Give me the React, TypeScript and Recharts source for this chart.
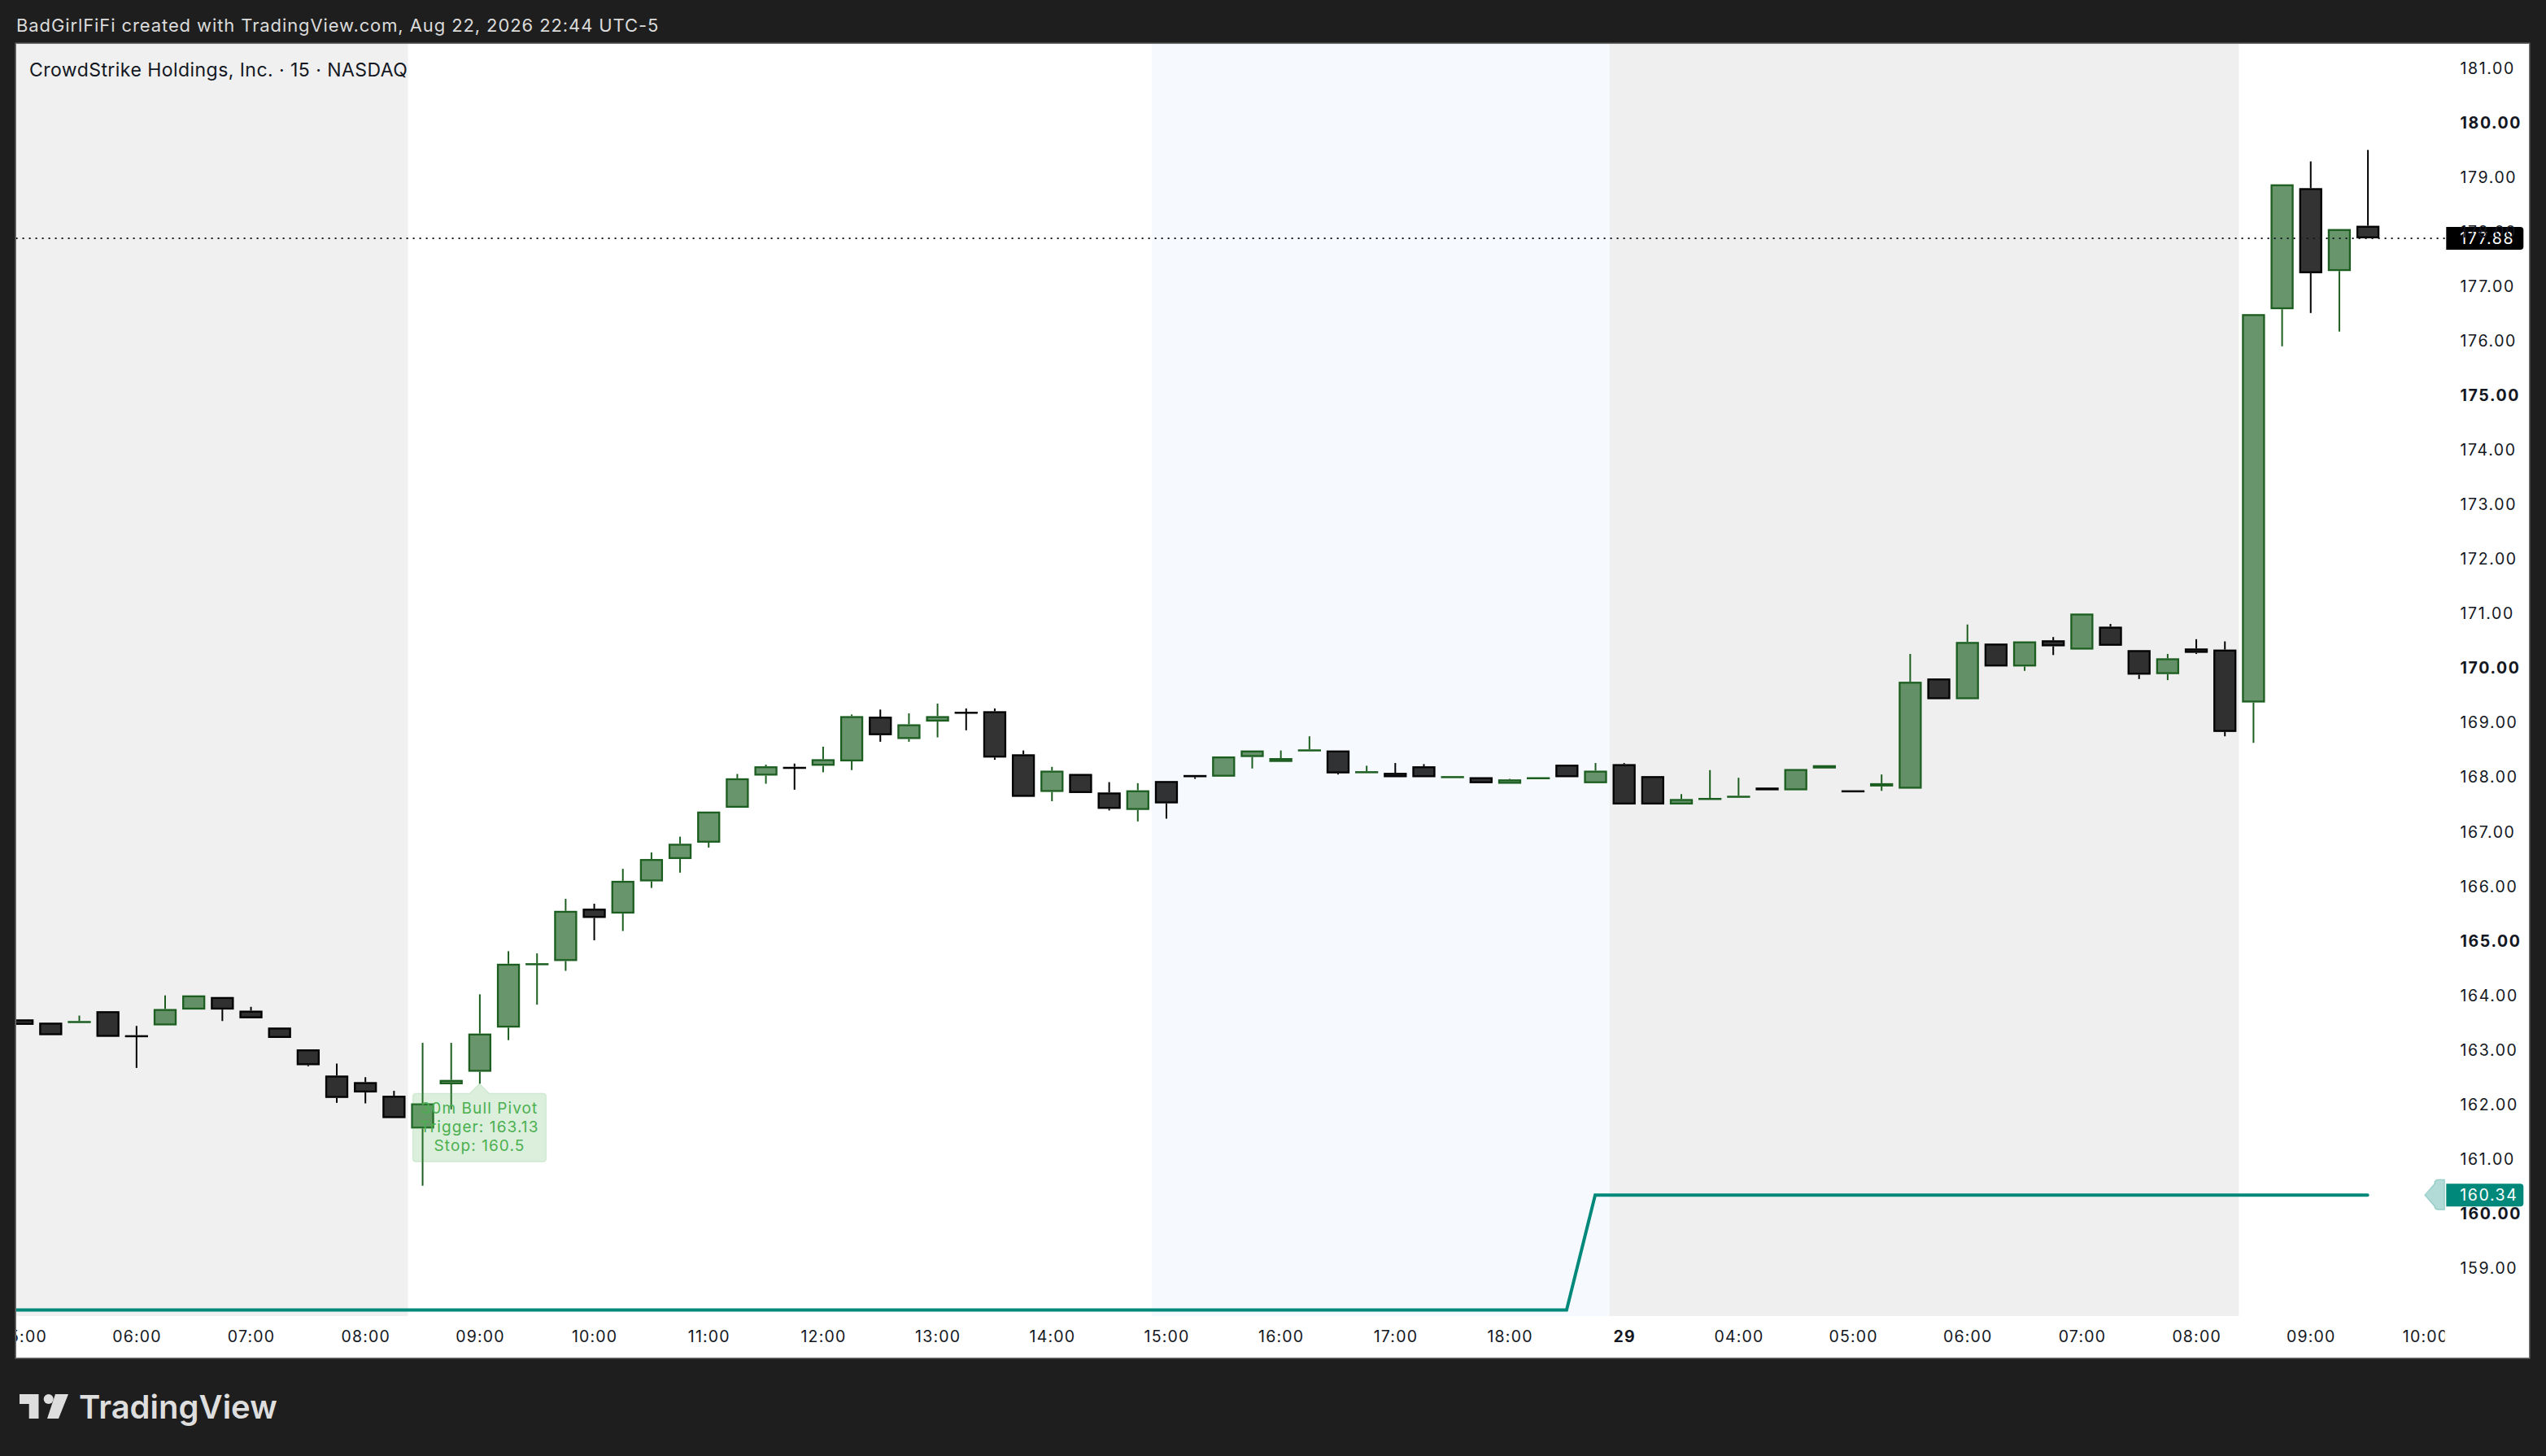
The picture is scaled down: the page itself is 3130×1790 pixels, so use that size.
import { Bar, ComposedChart, Line, ReferenceArea, ReferenceDot, ReferenceLine, XAxis, YAxis } from 'recharts';

// 15 minute bars, first one at 05:00
const opens = [
  163.56, 163.5, 163.51, 163.71, 163.27, 163.45, 163.74, 163.97, 163.72, 163.41,
  163.01, 162.53, 162.41, 162.16, 161.56, 162.37, 162.6, 163.41, 164.56, 164.63,
  165.59, 165.5, 166.09, 166.5, 166.8, 167.44, 168.03, 168.19, 168.21, 168.29,
  169.11, 168.7, 169.02, 169.2, 169.21, 168.42, 167.73, 168.06, 167.72, 167.4,
  167.93, 168.04, 168.01, 168.37, 168.28, 168.49, 168.49, 168.09, 168.08, 168.2,
  168.0, 168.0, 167.88, 167.97, 168.23, 167.89, 168.24, 168.02, 167.5, 167.6,
  167.64, 167.81, 167.76, 168.16, 167.76, 167.83, 167.79, 169.81, 169.43, 170.45,
  170.03, 170.51, 170.34, 170.76, 170.33, 169.89, 170.36, 170.34, 169.37, 176.58,
  178.8, 177.28, 178.11,
];
const highs = [
  163.56, 163.5, 163.63, 163.71, 163.44, 164.0, 164.0, 163.97, 163.79, 163.41,
  163.01, 162.75, 162.5, 162.25, 163.13, 163.13, 164.02, 164.81, 164.77, 165.77,
  165.68, 166.32, 166.62, 166.91, 167.37, 168.06, 168.23, 168.25, 168.56, 169.15,
  169.24, 169.17, 169.35, 169.26, 169.26, 168.49, 168.19, 168.06, 167.91, 167.89,
  167.93, 168.04, 168.38, 168.49, 168.49, 168.75, 168.49, 168.21, 168.26, 168.24,
  168.02, 168.0, 167.97, 168.0, 168.23, 168.26, 168.26, 168.02, 167.69, 168.13,
  167.99, 167.81, 168.15, 168.22, 167.76, 168.05, 170.26, 169.81, 170.8, 170.45,
  170.49, 170.57, 171.0, 170.81, 170.33, 170.26, 170.53, 170.49, 176.49, 178.87,
  179.29, 178.05, 179.5,
];
const lows = [
  163.46, 163.27, 163.51, 163.24, 162.67, 163.45, 163.74, 163.53, 163.58, 163.22,
  162.7, 162.03, 162.02, 161.75, 160.51, 161.91, 162.38, 163.18, 163.83, 164.45,
  165.01, 165.18, 165.97, 166.25, 166.71, 167.44, 167.88, 167.77, 168.09, 168.13,
  168.65, 168.65, 168.73, 168.86, 168.32, 167.64, 167.56, 167.71, 167.39, 167.19,
  167.24, 167.97, 168.01, 168.16, 168.28, 168.49, 168.05, 168.09, 168.0, 168.0,
  168.0, 167.89, 167.88, 167.97, 168.0, 167.89, 167.5, 167.5, 167.5, 167.6,
  167.64, 167.76, 167.76, 168.16, 167.74, 167.75, 167.79, 169.43, 169.43, 170.03,
  169.95, 170.24, 170.34, 170.41, 169.8, 169.78, 170.26, 168.75, 168.63, 175.9,
  176.51, 176.17, 177.88,
];
const closes = [
  163.46, 163.27, 163.53, 163.24, 163.25, 163.75, 164.0, 163.74, 163.58, 163.22,
  162.72, 162.12, 162.22, 161.75, 162.02, 162.45, 163.3, 164.58, 164.59, 165.55,
  165.42, 166.1, 166.5, 166.78, 167.37, 167.98, 168.2, 168.17, 168.33, 169.12,
  168.77, 168.97, 169.12, 169.18, 168.36, 167.64, 168.12, 167.71, 167.42, 167.76,
  167.52, 168.0, 168.38, 168.49, 168.35, 168.51, 168.07, 168.11, 168.0, 168.0,
  168.02, 167.89, 167.96, 168.0, 168.0, 168.12, 167.5, 167.5, 167.6, 167.62,
  167.66, 167.76, 168.15, 168.22, 167.74, 167.89, 169.75, 169.43, 170.48, 170.03,
  170.49, 170.4, 171.0, 170.41, 169.88, 170.18, 170.28, 168.83, 176.49, 178.87,
  177.24, 178.05, 177.88,
];
// stop line, starts one bar before the first candle so it reaches the pane edge
const stops = [
  158.23, 158.23, 158.23, 158.23, 158.23, 158.23, 158.23, 158.23, 158.23, 158.23,
  158.23, 158.23, 158.23, 158.23, 158.23, 158.23, 158.23, 158.23, 158.23, 158.23,
  158.23, 158.23, 158.23, 158.23, 158.23, 158.23, 158.23, 158.23, 158.23, 158.23,
  158.23, 158.23, 158.23, 158.23, 158.23, 158.23, 158.23, 158.23, 158.23, 158.23,
  158.23, 158.23, 158.23, 158.23, 158.23, 158.23, 158.23, 158.23, 158.23, 158.23,
  158.23, 158.23, 158.23, 158.23, 158.23, 158.23, 160.34, 160.34, 160.34, 160.34,
  160.34, 160.34, 160.34, 160.34, 160.34, 160.34, 160.34, 160.34, 160.34, 160.34,
  160.34, 160.34, 160.34, 160.34, 160.34, 160.34, 160.34, 160.34, 160.34, 160.34,
  160.34, 160.34, 160.34, 160.34,
];
const timeSlots = [0, 4, 8, 12, 16, 20, 24, 28, 32, 36, 40, 44, 48, 52, 56, 60, 64, 68, 72, 76, 80, 84];
const timeLabels = [
  '05:00', '06:00', '07:00', '08:00', '09:00', '10:00', '11:00', '12:00', '13:00', '14:00', '15:00',
  '16:00', '17:00', '18:00', '29', '04:00', '05:00', '06:00', '07:00', '08:00', '09:00', '10:00',
];
const priceTicks = [159, 160, 161, 162, 163, 164, 165, 166, 167, 168, 169, 170, 171, 172, 173, 174, 175, 176, 177, 178, 179, 180, 181];
const lastPrice = 177.88;
const stopPrice = 160.34;
const pivotLines = ['30m Bull Pivot', 'Trigger: 163.13', 'Stop: 160.5'];

const rows: any[] = [];
for (let slot = -1; slot <= 84; slot++) {
  const i = slot;
  rows.push({
    slot,
    open: opens[i],
    high: highs[i],
    low: lows[i],
    close: closes[i],
    range: i >= 0 && i < opens.length ? [lows[i], highs[i]] : null,
    stop: stops[slot + 1] ?? null,
  });
}

const FONT = 'Inter, "Noto Sans", sans-serif';
const UP = '#1b5e20';
const DOWN = '#000000';
const TEAL = '#00897b';

function Candle(props: any) {
  const { x, y, width, height, payload } = props;
  if (payload.open == null || !payload.range) return null;
  const top = Math.min(y, y + height);
  const span = Math.abs(height);
  const perUnit = span / (payload.high - payload.low);
  const isUp = payload.close >= payload.open;
  const color = isUp ? UP : DOWN;
  const bodyTop = top + (payload.high - Math.max(payload.open, payload.close)) * perUnit;
  const bodyBottom = top + (payload.high - Math.min(payload.open, payload.close)) * perUnit;
  const cx = x + width / 2;
  // readings are the outer edge of the outline, so pull the rect in by half a stroke
  const inner = Math.max(bodyBottom - bodyTop - 2.3, 0.2);
  return (
    <g>
      <line x1={cx} x2={cx} y1={top} y2={bodyTop} stroke={color} strokeWidth={2} />
      <line x1={cx} x2={cx} y1={bodyBottom} y2={top + span} stroke={color} strokeWidth={2} />
      <rect
        x={x}
        y={bodyTop + 1.15}
        width={width}
        height={inner}
        fill={isUp ? 'rgba(27,94,32,0.66)' : 'rgba(0,0,0,0.8)'}
        stroke={color}
        strokeWidth={2.3}
      />
    </g>
  );
}

function TimeTick(props: any) {
  const { x, payload } = props;
  const label = timeLabels[timeSlots.indexOf(payload.value)];
  return (
    <text
      x={x + 1}
      y={1589}
      clipPath="url(#timeClip)"
      textAnchor="middle"
      dominantBaseline="central"
      fontFamily={FONT}
      fontSize={19.5}
      letterSpacing={1.2}
      fontWeight={label === '29' ? 700 : 400}
      fill="#131722"
    >
      {label}
    </text>
  );
}

function PriceTick(props: any) {
  const { x, y, payload } = props;
  return (
    <text
      x={x}
      y={y}
      textAnchor="start"
      dominantBaseline="central"
      fontFamily={FONT}
      fontSize={19.5}
      letterSpacing={1.6}
      fontWeight={payload.value % 5 === 0 ? 700 : 400}
      fill="#131722"
    >
      {payload.value.toFixed(2)}
    </text>
  );
}

function PivotNote({ cx, cy }: any) {
  const l = cx - 82;
  const r = cx + 82;
  const t = cy + 12;
  const b = cy + 96;
  const d = `M${l + 4} ${t}H${cx - 12}L${cx} ${cy}L${cx + 12} ${t}H${r - 4}Q${r} ${t} ${r} ${t + 4}V${b - 4}Q${r} ${b} ${r - 4} ${b}H${l + 4}Q${l} ${b} ${l} ${b - 4}V${t + 4}Q${l} ${t} ${l + 4} ${t}Z`;
  return (
    <g>
      <path d={d} fill="rgba(76,175,80,0.2)" stroke="rgba(76,175,80,0.15)" strokeWidth={1.5} />
      {pivotLines.map((line, i) => (
        <text
          key={line}
          x={cx}
          y={cy + 30 + i * 23}
          textAnchor="middle"
          dominantBaseline="central"
          fontFamily={FONT}
          fontSize={19}
          letterSpacing={1.1}
          fill="#4caf50"
        >
          {line}
        </text>
      ))}
    </g>
  );
}

function PriceTag({ cx, cy, value, fill }: any) {
  // cx is the centre of the 10:00 slot
  const left = cx + 26.3;
  const w = 95;
  const h = 28;
  const d = `M${left} ${cy - h / 2}H${left + w - 4}Q${left + w} ${cy - h / 2} ${left + w} ${cy - h / 2 + 4}V${cy + h / 2 - 4}Q${left + w} ${cy + h / 2} ${left + w - 4} ${cy + h / 2}H${left}Z`;
  return (
    <g>
      <path d={d} fill={fill} />
      <text
        x={cx + 43.3}
        y={cy}
        textAnchor="start"
        dominantBaseline="central"
        fontFamily={FONT}
        fontSize={19.5}
        letterSpacing={1.6}
        fill="#ffffff"
      >
        {value.toFixed(2)}
      </text>
    </g>
  );
}

function StopTag(props: any) {
  const { cx, cy } = props;
  const tipW = 12;
  return (
    <g>
      <path
        d={`M${cx} ${cy}L${cx + tipW} ${cy - 14}V${cy - 16}Q${cx + tipW + 1} ${cy - 19} ${cx + tipW + 4} ${cy - 19}H${cx + 24.3}V${cy + 18}H${cx + tipW + 4}Q${cx + tipW + 1} ${cy + 18} ${cx + tipW} ${cy + 15}V${cy + 14}Z`}
        fill="rgba(0,137,123,0.3)"
        stroke="rgba(0,137,123,0.25)"
        strokeWidth={1.5}
      />
      <PriceTag cx={cx} cy={cy} value={stopPrice} fill={TEAL} />
    </g>
  );
}

function LastTag(props: any) {
  return <PriceTag cx={props.cx} cy={props.cy} value={lastPrice} fill="#000000" />;
}

export default function App() {
  return (
    <div style={{ position: 'absolute', left: 0, top: 0, width: 3130, height: 1790, background: '#1e1e1e', overflow: 'hidden', fontFamily: FONT }}>
      <div style={{ position: 'absolute', left: 20, top: 17, fontSize: 22, letterSpacing: 0.9, lineHeight: '28px', color: '#dbdbdb', whiteSpace: 'nowrap' }}>
        BadGirlFiFi created with TradingView.com, Aug 22, 2026 22:44 UTC-5
      </div>

      <div style={{ position: 'absolute', left: 20, top: 54, width: 3089, height: 1615, background: '#fff', overflow: 'hidden', boxShadow: '0 0 0 1.5px #6f6f6f' }}>
        <div style={{ position: 'absolute', left: -45.6, top: 0 }}>
          <ComposedChart
            width={3134.6}
            height={1615}
            data={rows}
            margin={{ top: 0, right: 0, bottom: 0, left: 0 }}
            barSize={26}
          >
            <defs>
              <clipPath id="timeClip">
                <rect x={0} y={0} width={3031.6} height={1615} />
              </clipPath>
            </defs>
            <XAxis
              dataKey="slot"
              type="category"
              ticks={timeSlots}
              interval={0}
              height={51}
              axisLine={false}
              tickLine={false}
              padding={{ left: 0, right: 7 }}
              tick={<TimeTick />}
            />
            <YAxis
              orientation="right"
              width={103}
              domain={[158.12, 181.444]}
              ticks={priceTicks}
              interval={0}
              axisLine={false}
              tickLine={false}
              tickSize={0}
              tickMargin={19}
              tick={<PriceTick />}
            />
            <ReferenceArea x1={0} x2={13} fill="#f0f0f0" fillOpacity={1} stroke="none" />
            <ReferenceArea x1={40} x2={55} fill="#f6faff" fillOpacity={1} stroke="none" />
            <ReferenceArea x1={56} x2={77} fill="#efefef" fillOpacity={1} stroke="none" />
            <ReferenceLine y={lastPrice} stroke="#131722" strokeWidth={2} strokeDasharray="2 6" />
            <Line dataKey="stop" stroke={TEAL} strokeWidth={4} strokeLinecap="round" dot={false} activeDot={false} isAnimationActive={false} connectNulls={false} />
            <Bar dataKey="range" shape={<Candle />} isAnimationActive={false} />
            <ReferenceDot x={16} y={lows[16]} ifOverflow="visible" shape={<PivotNote />} />
            <ReferenceDot x={84} y={lastPrice} ifOverflow="visible" shape={<LastTag />} />
            <ReferenceDot x={84} y={stopPrice} ifOverflow="visible" shape={<StopTag />} />
          </ComposedChart>
        </div>
        <div style={{ position: 'absolute', left: 16, top: 17, fontSize: 23, letterSpacing: 0.45, lineHeight: '30px', color: '#131722', whiteSpace: 'nowrap' }}>
          CrowdStrike Holdings, Inc. · 15 · NASDAQ
        </div>
      </div>

      <svg style={{ position: 'absolute', left: 0, top: 0 }} width={400} height={1790}>
        <path d="M24 1714H47.5V1744H35.7V1726H24Z M68 1714H84L72 1744H58Z" fill="#dedede" />
        <circle cx={59.7} cy={1720} r={6} fill="#dedede" />
        <text x={97} y={1744} fontFamily={FONT} fontSize={40} fontWeight={600} fill="#dedede">
          TradingView
        </text>
      </svg>
    </div>
  );
}
